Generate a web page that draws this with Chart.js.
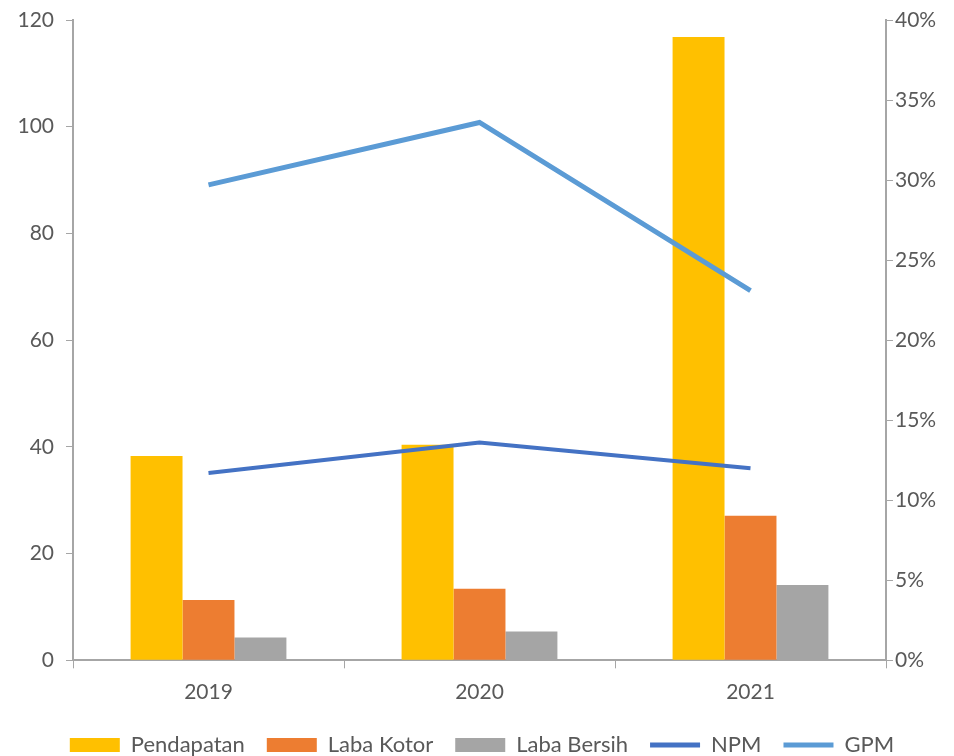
<!DOCTYPE html>
<html>
<head>
<meta charset="utf-8">
<script src="https://cdn.jsdelivr.net/npm/chart.js@4/dist/chart.umd.min.js"></script>
<style>
  html, body { margin: 0; padding: 0; background: #fff; }
  #wrap { width: 954px; height: 756px; }
</style>
</head>
<body>
<div id="wrap"><canvas id="finChart"></canvas></div>
<script>
const years = ['2019', '2020', '2021'];
const pendapatan = [38.3, 40.4, 116.8];
const labaKotor = [11.3, 13.4, 27.1];
const labaBersih = [4.3, 5.4, 14.1];
const npm = [11.7, 13.6, 12.0];
const gpm = [29.7, 33.6, 23.1];

const tickColor = '#595959';
const axisColor = '#A6A6A6';
const fontFamily = 'Lato, "Open Sans", sans-serif';

const ctx = document.getElementById('finChart').getContext('2d');
new Chart(ctx, {
  type: 'bar',
  data: {
    labels: years,
    datasets: [
      { type: 'line', label: 'NPM', data: npm, yAxisID: 'y1', borderColor: '#4472C4', backgroundColor: '#4472C4', borderWidth: 4, pointRadius: 0, tension: 0, order: 1 },
      { type: 'line', label: 'GPM', data: gpm, yAxisID: 'y1', borderColor: '#5B9BD5', backgroundColor: '#5B9BD5', borderWidth: 5, pointRadius: 0, tension: 0, order: 0 },
      { label: 'Pendapatan', data: pendapatan, backgroundColor: '#FFC000', yAxisID: 'y', order: 2 },
      { label: 'Laba Kotor', data: labaKotor, backgroundColor: '#ED7D31', yAxisID: 'y', order: 3 },
      { label: 'Laba Bersih', data: labaBersih, backgroundColor: '#A5A5A5', yAxisID: 'y', order: 4 }
    ]
  },
  options: {
    responsive: true,
    maintainAspectRatio: false,
    animation: false,
    datasets: { bar: { barPercentage: 1, categoryPercentage: 0.575 } },
    layout: { padding: { top: 20, bottom: -10, left: 10 } },
    plugins: {
      tooltip: { enabled: false },
      legend: {
        position: 'bottom',
        labels: {
          color: tickColor,
          font: { family: fontFamily, size: 22 },
          usePointStyle: true,
          pointStyleWidth: 50,
          boxHeight: 14,
          padding: 22,
          generateLabels: chart => {
            const order = ['Pendapatan', 'Laba Kotor', 'Laba Bersih', 'NPM', 'GPM'];
            return order.map(name => {
              const i = chart.data.datasets.findIndex(d => d.label === name);
              const ds = chart.data.datasets[i];
              const isLine = ds.type === 'line';
              return {
                text: name,
                datasetIndex: i,
                fillStyle: ds.backgroundColor,
                strokeStyle: ds.borderColor || ds.backgroundColor,
                lineWidth: isLine ? 5 : 0,
                pointStyle: isLine ? 'line' : 'rect',
                fontColor: tickColor,
                hidden: false
              };
            });
          }
        }
      }
    },
    scales: {
      x: {
        grid: { display: true, drawOnChartArea: false, offset: true, tickLength: 8, color: axisColor },
        border: { color: axisColor, width: 2 },
        ticks: { color: tickColor, font: { family: fontFamily, size: 21, lineHeight: 0.27 }, padding: 21 },
        afterFit: s => { s.height = s.height - 4; }
      },
      y: {
        position: 'left',
        min: 0, max: 120,
        grid: { drawOnChartArea: false, tickLength: 7, color: axisColor },
        border: { color: axisColor, width: 2 },
        ticks: { stepSize: 20, color: tickColor, font: { family: fontFamily, size: 21 }, padding: 12 },
        afterFit: s => { s.width = 63; s.paddingTop = 0; s.paddingBottom = 0; }
      },
      y1: {
        position: 'right',
        min: 0, max: 40,
        grid: { drawOnChartArea: false, tickLength: 7, color: axisColor },
        border: { color: axisColor, width: 2 },
        ticks: { stepSize: 5, color: tickColor, font: { family: fontFamily, size: 21 }, padding: 2, callback: v => v + '%' },
        afterFit: s => { s.width = 68; s.paddingTop = 0; s.paddingBottom = 0; }
      }
    }
  }
});
</script>
</body>
</html>
